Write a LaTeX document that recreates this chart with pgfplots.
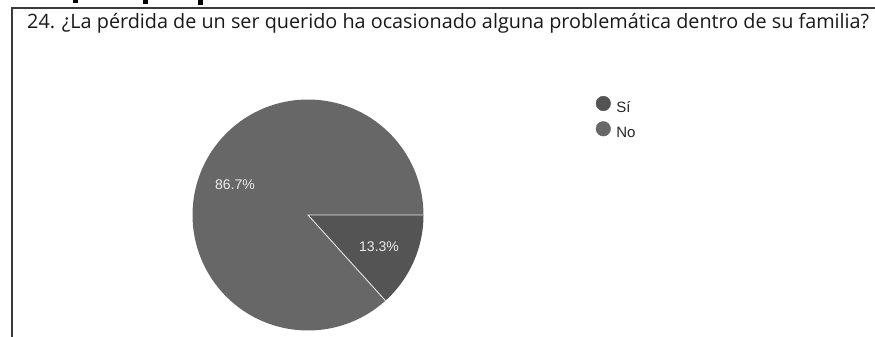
\documentclass[border=0pt]{standalone}
\usepackage{pgfplots}
\pgfplotsset{compat=1.18}
\usepackage{pgfplotstable}
\usepackage{graphicx}
\usepackage{fontspec}
\setmainfont{Liberation Sans}
\newfontfamily\titlefont{Open Sans}
\definecolor{sicol}{HTML}{545454}
\definecolor{nocol}{HTML}{676767}
\definecolor{framecol}{HTML}{3A3A3A}
\definecolor{sepcol}{HTML}{E4E4E4}
\pgfplotstableread{
label value
Si 13.3
No 86.7
}\piedata
\begin{document}
\begin{tikzpicture}
\useasboundingbox (0,0) rectangle (875pt,337pt);
% cut-off fragments of a line above the frame
\fill[black] (73pt,337pt) rectangle (78pt,334pt);
\fill[black] (143pt,337pt) rectangle (148pt,333pt);
\fill[black] (198pt,337pt) rectangle (203pt,332pt);
% frame
\draw[framecol, line width=1.3pt] (12pt,-2pt) -- (12pt,329pt) -- (877pt,329pt);
% title
\node[anchor=base west, inner sep=0pt, text=black!90] at (27pt,308pt)
  {\resizebox{842pt}{!}{\titlefont\fontsize{17}{20}\selectfont 24. ¿La pérdida de un ser querido ha ocasionado alguna problemática dentro de su familia?}};
\pgfplotstablegetelem{0}{value}\of\piedata \let\vsi\pgfplotsretval
\pgfmathsetmacro{\asi}{-3.6*\vsi}
\begin{axis}[
  at={(308pt,122pt)}, anchor=center,
  x=115.5pt, y=115.5pt,
  xmin=-1, xmax=1, ymin=-1, ymax=1,
  hide axis, clip=false,
  legend style={at={(axis cs:2.49,1.032)}, anchor=north west, draw=none, fill=none,
    inner sep=0pt, row sep=6pt,
    nodes={font=\fontsize{15}{17}\selectfont, text=black!85, inner sep=1pt}},
  legend cell align=left,
  legend image code/.code={\fill[#1] (0pt,4.5pt) circle (7.3pt); \path[draw=none,fill=none] (-7.3pt,0pt) -- (12pt,0pt);},
]
\fill[sicol] (axis cs:0,0) -- (axis cs:1,0) arc[start angle=0, end angle=\asi, radius=115.5pt] -- cycle;
\fill[nocol] (axis cs:0,0) -- (axis cs:{cos(\asi)},{sin(\asi)}) arc[start angle=\asi, end angle=-360, radius=115.5pt] -- cycle;
\draw[sepcol, line width=0.9pt] (axis cs:{cos(\asi)},{sin(\asi)}) -- (axis cs:0,0) -- (axis cs:1,0);
\node[text=white!92!black, font=\fontsize{14}{16}\selectfont] at (axis cs:-0.632,0.264) {86.7\%};
\node[text=white!92!black, font=\fontsize{14}{16}\selectfont] at (axis cs:0.615,-0.277) {13.3\%};
\addlegendimage{sicol}
\addlegendentry{\fontsize{15}{17}\selectfont Sí}
\addlegendimage{nocol}
\addlegendentry{\fontsize{15}{17}\selectfont No}
\end{axis}
\end{tikzpicture}
\end{document}
